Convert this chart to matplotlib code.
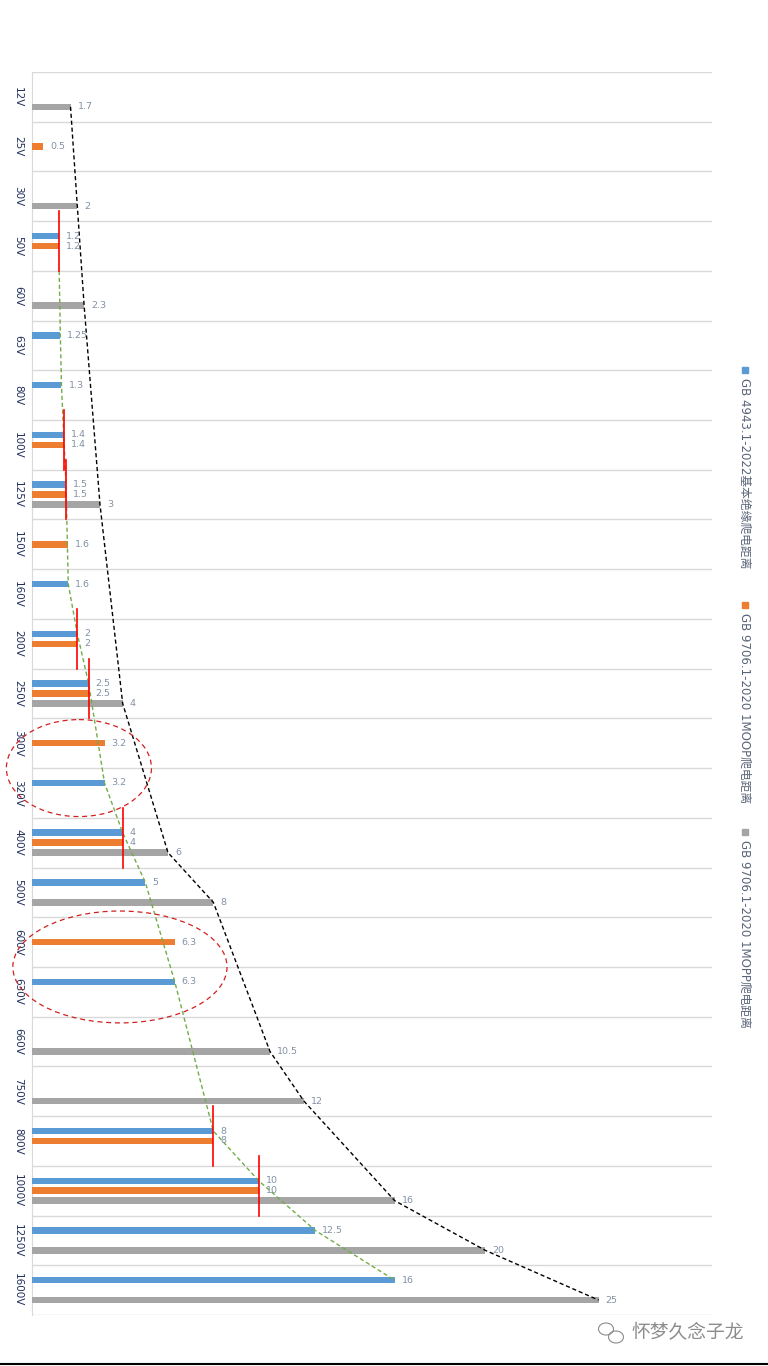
import numpy as np
import matplotlib
matplotlib.use("Agg")
import matplotlib.pyplot as plt
from matplotlib.patches import Ellipse
from matplotlib.transforms import blended_transform_factory

plt.rcParams['font.family'] = ['DejaVu Sans', 'Noto Sans CJK SC']

nan = np.nan
categories = ["12V", "25V", "30V", "50V", "60V", "63V", "80V", "100V", "125V", "150V",
              "160V", "200V", "250V", "300V", "320V", "400V", "500V", "600V", "630V",
              "660V", "750V", "800V", "1000V", "1250V", "1600V"]
blue_vals = [nan, nan, nan, 1.2, nan, 1.25, 1.3, 1.4, 1.5, nan, 1.6, 2, 2.5, nan, 3.2, 4, 5,
             nan, 6.3, nan, nan, 8, 10, 12.5, 16]
orange_vals = [nan, 0.5, nan, 1.2, nan, nan, nan, 1.4, 1.5, 1.6, nan, 2, 2.5, 3.2, nan, 4, nan,
               6.3, nan, nan, nan, 8, 10, nan, nan]
gray_vals = [1.7, nan, 2, nan, 2.3, nan, nan, nan, 3, nan, nan, nan, 4, nan, nan, 6, 8, nan,
             nan, 10.5, 12, nan, 16, 20, 25]
series_names = ["GB 4943.1-2022基本绝缘爬电距离",
                "GB 9706.1-2020 1MOOP爬电距离",
                "GB 9706.1-2020 1MOPP爬电距离"]
colors = ["#5b9bd5", "#ed7d31", "#a5a5a5"]
label_color = "#8391a6"

W, H = 768, 1366
fig = plt.figure(figsize=(W / 100, H / 100), dpi=100)
ax_l, ax_r, ax_t, ax_b = 32, 712, 72, 1315
ax = fig.add_axes([ax_l / W, 1 - ax_b / H, (ax_r - ax_l) / W, (ax_b - ax_t) / H])

n = len(categories)
y = np.arange(n)
ax.set_xlim(0, 30)
ax.set_ylim(n - 0.5, -0.5)

offsets = [-0.2, 0.0, 0.2]
all_vals = [blue_vals, orange_vals, gray_vals]
for vals, off, col in zip(all_vals, offsets, colors):
    v = np.array(vals, dtype=float)
    m = ~np.isnan(v)
    ax.barh(y[m] + off, v[m], height=0.13, color=col, zorder=3)
    for yy, vv in zip(y[m] + off, v[m]):
        ax.annotate(f"{vv:g}", (vv, yy), xytext=(7, 0), textcoords='offset pixels',
                    va='center', ha='left', fontsize=6.8, color=label_color, zorder=5)

# gridlines at category boundaries
for b in np.arange(-0.5, n, 1.0):
    ax.axhline(b, color="#d9d9d9", lw=1, zorder=1)
for s in ["top", "right", "bottom"]:
    ax.spines[s].set_visible(False)
ax.spines["left"].set_color("#d9d9d9")
ax.set_xticks([])
ax.set_yticks([])

# category labels
tr = blended_transform_factory(ax.transAxes, ax.transData)
for i, c in enumerate(categories):
    ax.text(-14 / (ax_r - ax_l), i, c, rotation=-90, ha='center', va='center',
            fontsize=7.5, color="#1f2f5c", transform=tr, clip_on=False)

# black dashed trend through gray bar ends
g = np.array(gray_vals)
mg = ~np.isnan(g)
ax.plot(g[mg], y[mg] + 0.2, color="black", lw=1, ls=(0, (3, 2)), zorder=4)

# green dashed trend through blue bar ends (starting below the 50V marker)
b_ = np.array(blue_vals)
o_ = np.array(orange_vals)
mb = ~np.isnan(b_)
gx = list(b_[mb])
gy = list(y[mb] - 0.2)
gy[0] = categories.index("50V") + 0.5
ax.plot(gx, gy, color="#70ad47", lw=1, ls=(0, (3, 2)), zorder=4)

# red vertical markers where the two standards agree
for i in range(n):
    if not np.isnan(b_[i]) and not np.isnan(o_[i]) and b_[i] == o_[i]:
        ax.plot([b_[i], b_[i]], [i - 0.7, i + 0.5], color="red", lw=1.2, zorder=6,
                clip_on=False)

# dashed ellipses
i1 = (categories.index("300V") + categories.index("320V")) / 2
i2 = (categories.index("600V") + categories.index("630V")) / 2
ax.add_patch(Ellipse((2.07, i1), 6.4, 1.95, fill=False, ec="#d02020", lw=0.9,
                     ls=(0, (4, 3)), clip_on=False, zorder=7))
ax.add_patch(Ellipse((3.88, i2), 9.45, 2.25, fill=False, ec="#d02020", lw=0.9,
                     ls=(0, (4, 3)), clip_on=False, zorder=7))

# legend (vertical, right side)
leg_y = [370, 605, 832]
for name, col, ly in zip(series_names, colors, leg_y):
    fig.patches.append(plt.Rectangle(((742) / W, 1 - (ly + 3) / H), 6 / W, 6 / H,
                                     transform=fig.transFigure, color=col))
    fig.text(745 / W, 1 - (ly + 8) / H, name, rotation=-90, ha='center', va='top',
             fontsize=8.5, color="#5a6478")

# watermark
fig.text(631 / W, 1 - 1333 / H, "怀梦久念子龙", fontsize=13.5, color="#8c8c8c",
         ha='left', va='center', family=['Noto Sans CJK SC'])
fig.patches.append(Ellipse((606 / W, 1 - 1329 / H), 15 / W, 12 / H, fill=False,
                           ec="#8c8c8c", lw=0.8, transform=fig.transFigure))
fig.patches.append(Ellipse((616 / W, 1 - 1337 / H), 15 / W, 12 / H, fill=False,
                           ec="#8c8c8c", lw=0.8, transform=fig.transFigure))

# bottom border line
fig.add_artist(plt.Line2D([0, 1], [1 - 1364 / H, 1 - 1364 / H], color="black", lw=1.5,
                          transform=fig.transFigure))

fig.savefig("out.png", dpi=100, facecolor="white")
